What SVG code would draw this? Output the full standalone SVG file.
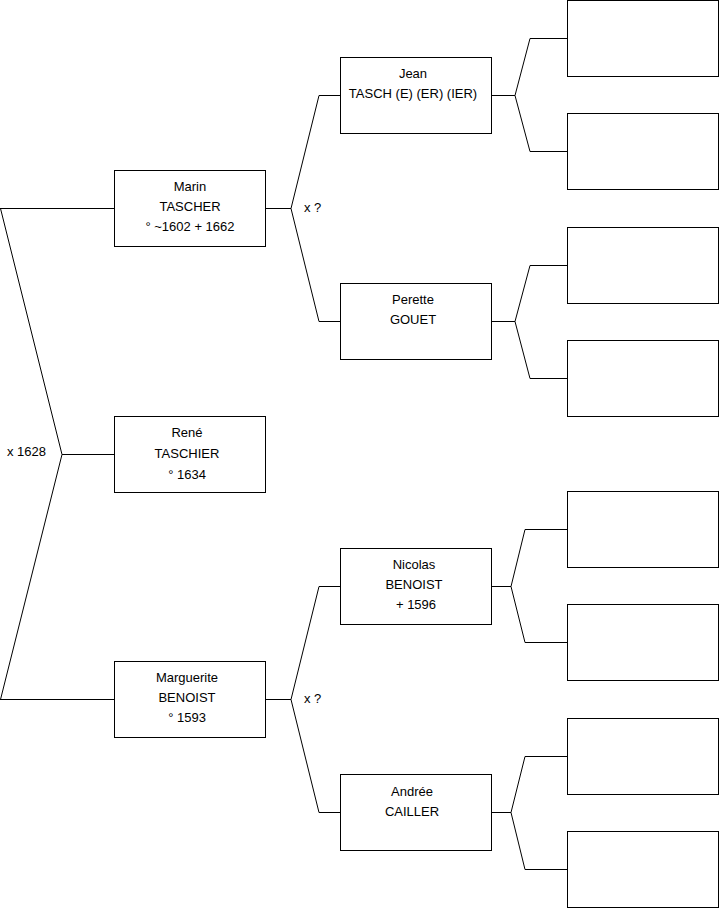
<svg xmlns="http://www.w3.org/2000/svg" width="719" height="908" viewBox="0 0 719 908">
<style>
.b{fill:#fff;stroke:#000;stroke-width:1}
.c{fill:none;stroke:#000;stroke-width:1}
text{font-family:"Liberation Sans",Arial,sans-serif;font-size:13px;fill:#000}
.m{text-anchor:middle}
</style>
<rect width="719" height="908" fill="#fff"/>
<g id="connectors">
<polyline class="c" points="0,208.5 114,208.5"/>
<polyline class="c" points="0.5,208.5 62,454.5 0.5,699.5"/>
<polyline class="c" points="62,454.5 114,454.5"/>
<polyline class="c" points="0,699.5 114,699.5"/>
<polyline class="c" points="265,208.5 291,208.5"/>
<polyline class="c" points="340,95.5 319,95.5 291,208.5 319,321.5 340,321.5"/>
<polyline class="c" points="265,699.5 291,699.5"/>
<polyline class="c" points="340,586.5 319,586.5 291,699.5 319,812.5 340,812.5"/>
<polyline class="c" points="491,95.5 515,95.5"/>
<polyline class="c" points="567,38.5 530,38.5 515,95.5 530,151.5 567,151.5"/>
<polyline class="c" points="491,321.5 515,321.5"/>
<polyline class="c" points="567,265.5 530,265.5 515,321.5 530,378.5 567,378.5"/>
<polyline class="c" points="491,586.5 511,586.5"/>
<polyline class="c" points="567,529.5 525,529.5 511,586.5 525,642.5 567,642.5"/>
<polyline class="c" points="491,812.5 511,812.5"/>
<polyline class="c" points="567,756.5 525,756.5 511,812.5 525,869.5 567,869.5"/>
<text x="304" y="212">x ?</text>
<text x="304" y="703">x ?</text>
<text x="7" y="456">x 1628</text>
</g>
<g id="marin"><rect class="b" x="114.5" y="170.5" width="151" height="76"/>
<text class="m" x="190" y="191">Marin</text><text class="m" x="190" y="211">TASCHER</text><text class="m" x="190" y="231">° ~1602 + 1662</text></g>
<g id="rene"><rect class="b" x="114.5" y="416.5" width="151" height="76"/>
<text class="m" x="187" y="437">René</text><text class="m" x="187" y="458">TASCHIER</text><text class="m" x="187" y="479">° 1634</text></g>
<g id="marguerite"><rect class="b" x="114.5" y="661.5" width="151" height="76"/>
<text class="m" x="187" y="682">Marguerite</text><text class="m" x="187" y="702">BENOIST</text><text class="m" x="187" y="722">° 1593</text></g>
<g id="jean"><rect class="b" x="340.5" y="57.5" width="151" height="76"/>
<text class="m" x="413" y="78">Jean</text><text class="m" x="413" y="98">TASCH (E) (ER) (IER)</text></g>
<g id="perette"><rect class="b" x="340.5" y="283.5" width="151" height="76"/>
<text class="m" x="413" y="304">Perette</text><text class="m" x="413" y="324">GOUET</text></g>
<g id="nicolas"><rect class="b" x="340.5" y="548.5" width="151" height="76"/>
<text class="m" x="414" y="569">Nicolas</text><text class="m" x="414" y="589">BENOIST</text><text class="m" x="416" y="609">+ 1596</text></g>
<g id="andree"><rect class="b" x="340.5" y="774.5" width="151" height="76"/>
<text class="m" x="412" y="796">Andrée</text><text class="m" x="412" y="816">CAILLER</text></g>
<g id="p1"><rect class="b" x="567.5" y="0.5" width="151" height="76"/></g>
<g id="p2"><rect class="b" x="567.5" y="113.5" width="151" height="76"/></g>
<g id="p3"><rect class="b" x="567.5" y="227.5" width="151" height="76"/></g>
<g id="p4"><rect class="b" x="567.5" y="340.5" width="151" height="76"/></g>
<g id="p5"><rect class="b" x="567.5" y="491.5" width="151" height="76"/></g>
<g id="p6"><rect class="b" x="567.5" y="604.5" width="151" height="76"/></g>
<g id="p7"><rect class="b" x="567.5" y="718.5" width="151" height="76"/></g>
<g id="p8"><rect class="b" x="567.5" y="831.5" width="151" height="76"/></g>
</svg>
